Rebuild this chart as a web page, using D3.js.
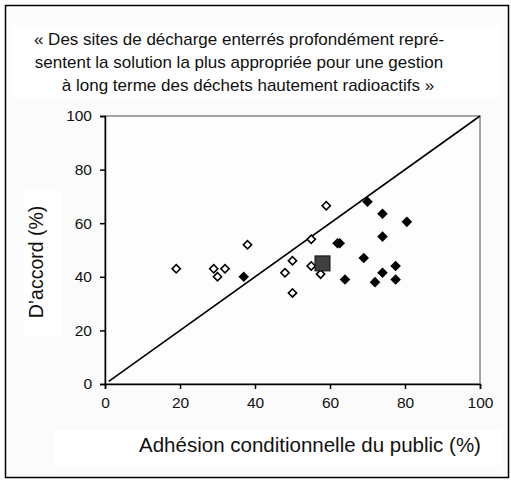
<!DOCTYPE html>
<html>
<head>
<meta charset="utf-8">
<script src="https://cdn.jsdelivr.net/npm/d3@7"></script>
<style>
  body { margin: 0; background: #fff; }
  svg text { font-family: "Liberation Sans", Arial, sans-serif; fill: #111; }
</style>
</head>
<body>
<div id="chart"></div>
<script>
// data (x = adhésion conditionnelle, y = d'accord)
const titleLines = [
  '« Des sites de décharge enterrés profondément repré-',
  'sentent la solution la plus appropriée pour une gestion',
  'à long terme des déchets hautement radioactifs »'
]
const ticks = [0, 20, 40, 60, 80, 100]

const openX = [19, 29, 30, 32, 38, 48, 50, 50, 55, 55, 57.5, 59]
const openY = [43, 43, 40, 43, 52, 41.5, 46, 34, 54, 44, 41, 66.5]

const filledX = [37, 62, 62.6, 64, 69, 70, 74, 74, 74, 72, 77.5, 77.5, 80.5]
const filledY = [40, 52.5, 52.5, 39, 47, 68, 63.5, 55, 41.5, 38, 44, 39, 60.5]

const meanX = [58]
const meanY = [45]

const W = 511, H = 480
const margin = { left: 105, right: 31, top: 116, bottom: 96 }

const svg = d3.select('#chart').append('svg')
  .attr('width', W)
  .attr('height', H)

svg.append('rect')
  .attr('x', 5.5).attr('y', 5.5)
  .attr('width', 503).attr('height', 472)
  .attr('fill', '#fbfbfb')
  .attr('stroke', '#000')
  .attr('stroke-width', 1.5)

const x = d3.scaleLinear().domain([0, 100]).range([margin.left, W - margin.right])
const y = d3.scaleLinear().domain([0, 100]).range([H - margin.bottom, margin.top])

// title box
svg.append('rect')
  .attr('x', 12).attr('y', 25).attr('width', 488).attr('height', 72)
  .attr('fill', '#fff')
const titleX = [239, 239, 248]
svg.selectAll('.title')
  .data(titleLines)
  .join('text')
  .attr('class', 'title')
  .attr('x', (d, i) => titleX[i])
  .attr('y', (d, i) => 44.5 + i * 23.3)
  .attr('text-anchor', 'middle')
  .style('font-size', '17px')
  .text(d => d)

// plot area
svg.append('rect')
  .attr('x', x(0)).attr('y', y(100))
  .attr('width', x(100) - x(0)).attr('height', y(0) - y(100))
  .attr('fill', '#fdfdfd')
  .attr('stroke', '#888')
  .attr('stroke-width', 1.5)

const xAxis = svg.append('g')
  .attr('transform', `translate(0,${y(0)})`)
  .call(d3.axisBottom(x).tickValues(ticks).tickSize(5).tickPadding(8))
const yAxis = svg.append('g')
  .attr('transform', `translate(${x(0)},0)`)
  .call(d3.axisLeft(y).tickValues(ticks).tickSize(5).tickPadding(8))

;[xAxis, yAxis].forEach(ax => {
  ax.select('.domain').attr('stroke', '#000').attr('stroke-width', 1.5)
  ax.selectAll('.tick line').attr('stroke', '#000').attr('stroke-width', 1.5)
  ax.selectAll('.tick text')
    .style('font-size', '15.5px')
    .style('font-family', '"Liberation Sans", Arial, sans-serif')
    .attr('fill', '#111')
})

// diagonal
svg.append('line')
  .attr('x1', x(1)).attr('y1', y(1))
  .attr('x2', x(100)).attr('y2', y(100))
  .attr('stroke', '#000')
  .attr('stroke-width', 1.6)

const diamond = d3.symbol().type(d3.symbolSquare)

const openPts = openX.map((v, i) => ({ x: v, y: openY[i] }))
const filledPts = filledX.map((v, i) => ({ x: v, y: filledY[i] }))
const meanPts = meanX.map((v, i) => ({ x: v, y: meanY[i] }))

svg.selectAll('.open')
  .data(openPts)
  .join('path')
  .attr('class', 'open')
  .attr('d', diamond.size(34))
  .attr('transform', d => `translate(${x(d.x)},${y(d.y)}) rotate(45)`)
  .attr('fill', '#fff')
  .attr('stroke', '#000')
  .attr('stroke-width', 1.6)

svg.selectAll('.filled')
  .data(filledPts)
  .join('path')
  .attr('class', 'filled')
  .attr('d', diamond.size(56))
  .attr('transform', d => `translate(${x(d.x)},${y(d.y)}) rotate(45)`)
  .attr('fill', '#000')

svg.selectAll('.mean')
  .data(meanPts)
  .join('rect')
  .attr('class', 'mean')
  .attr('x', d => x(d.x) - 7.5)
  .attr('y', d => y(d.y) - 7.5)
  .attr('width', 15).attr('height', 15)
  .attr('fill', '#3f3f3f')
  .attr('stroke', '#111')
  .attr('stroke-width', 1)

// axis titles
svg.append('rect')
  .attr('x', 53).attr('y', 430).attr('width', 448).attr('height', 35)
  .attr('fill', '#fff')
svg.append('text')
  .attr('x', 310).attr('y', 452)
  .attr('text-anchor', 'middle')
  .style('font-size', '20.5px')
  .text('Adhésion conditionnelle du public (%)')

svg.append('rect')
  .attr('x', 24).attr('y', 191).attr('width', 37).attr('height', 145)
  .attr('fill', '#fff')
svg.append('text')
  .attr('transform', 'translate(43,262) rotate(-90)')
  .attr('text-anchor', 'middle')
  .style('font-size', '19.5px')
  .text('D’accord (%)')
</script>
</body>
</html>
